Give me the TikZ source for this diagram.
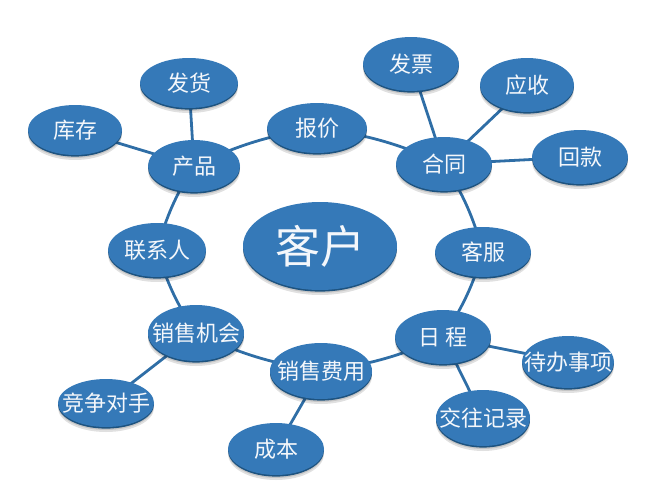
\documentclass[tikz,border=0pt]{standalone}
\usepackage{fontspec}
\newfontfamily\cjk{Noto Sans CJK SC}
\usetikzlibrary{shapes.geometric,backgrounds}
\definecolor{bmain}{HTML}{3579B8}
\definecolor{bdark}{HTML}{1E537F}
\definecolor{bline}{HTML}{2F6EA6}
\definecolor{btext}{HTML}{F4F7FB}
\newcommand\bt[1]{\makebox[0pt][c]{#1}}
\tikzset{
  bubble/.style={ellipse, inner sep=0pt, fill=bmain, text=btext,
    font=\cjk\fontsize{22}{25}\selectfont,
    preaction={fill=black, opacity=0.12, transform canvas={yshift=-5pt}},
    preaction={fill=black, opacity=0.12, transform canvas={yshift=-3pt}},
    preaction={fill=bdark, transform canvas={yshift=-1.6pt}}},
  sz/.style 2 args={minimum width=#1pt, minimum height=#2pt},
  link/.style={draw=bline, line width=2.8pt},
  ring/.style={link, bend left=8}
}
\begin{document}
\begin{tikzpicture}[x=1pt,y=1pt]
\useasboundingbox (0,0) rectangle (658,-493);
\node[bubble, sz={154}{88}, font=\cjk\fontsize{45}{48}\selectfont] (kh) at (320,-246) {\bt{客户}};
\node[bubble, sz={98}{50}] (fh) at (189,-83) {\bt{发货}};
\node[bubble, sz={92}{52}] (cp) at (194,-166) {\bt{产品}};
\node[bubble, sz={94}{50}] (kc) at (75,-130) {\bt{库存}};
\node[bubble, sz={100}{50}] (bj) at (317,-128) {\bt{报价}};
\node[bubble, sz={96}{54}] (fp) at (411,-64) {\bt{发票}};
\node[bubble, sz={94}{54}] (ys) at (527,-85) {\bt{应收}};
\node[bubble, sz={96}{54}] (ht) at (444,-164) {\bt{合同}};
\node[bubble, sz={96}{54}] (hk) at (580,-157) {\bt{回款}};
\node[bubble, sz={96}{50}] (kf) at (483,-252) {\bt{客服}};
\node[bubble, sz={98}{54}] (lxr) at (157,-250) {\bt{联系人}};
\node[bubble, sz={96}{56}] (xsjh) at (196,-333) {\bt{销售机会}};
\node[bubble, sz={96}{48}] (jzds) at (106,-403) {\bt{竞争对手}};
\node[bubble, sz={96}{52}] (cb) at (276,-449) {\bt{成本}};
\node[bubble, sz={102}{56}] (xsfy) at (321,-371) {\bt{销售费用}};
\node[bubble, sz={96}{54}] (rc) at (443,-337) {\bt{日\hspace{5pt}程}};
\node[bubble, sz={92}{52}] (dbsx) at (568,-362) {\bt{待办事项}};
\node[bubble, sz={94}{56}] (jwjl) at (483,-418) {\bt{交往记录}};
\begin{pgfonlayer}{background}
\draw[link] (fh.center) -- (cp.center);
\draw[link] (kc.center) -- (cp.center);
\draw[link] (fp.center) -- (ht.center);
\draw[link] (ys.center) -- (ht.center);
\draw[link] (hk.center) -- (ht.center);
\draw[link] (rc.center) -- (dbsx.center);
\draw[link] (rc.center) -- (jwjl.center);
\draw[link] (xsfy.center) -- (cb.center);
\draw[link] (xsjh.center) -- (jzds.center);
\draw[ring] (cp.center) to (bj.center);
\draw[ring] (bj.center) to (ht.center);
\draw[ring] (ht.center) to (kf.center);
\draw[ring] (kf.center) to (rc.center);
\draw[ring] (rc.center) to (xsfy.center);
\draw[ring] (xsfy.center) to (xsjh.center);
\draw[ring] (xsjh.center) to (lxr.center);
\draw[ring] (lxr.center) to (cp.center);
\end{pgfonlayer}
\end{tikzpicture}
\end{document}
